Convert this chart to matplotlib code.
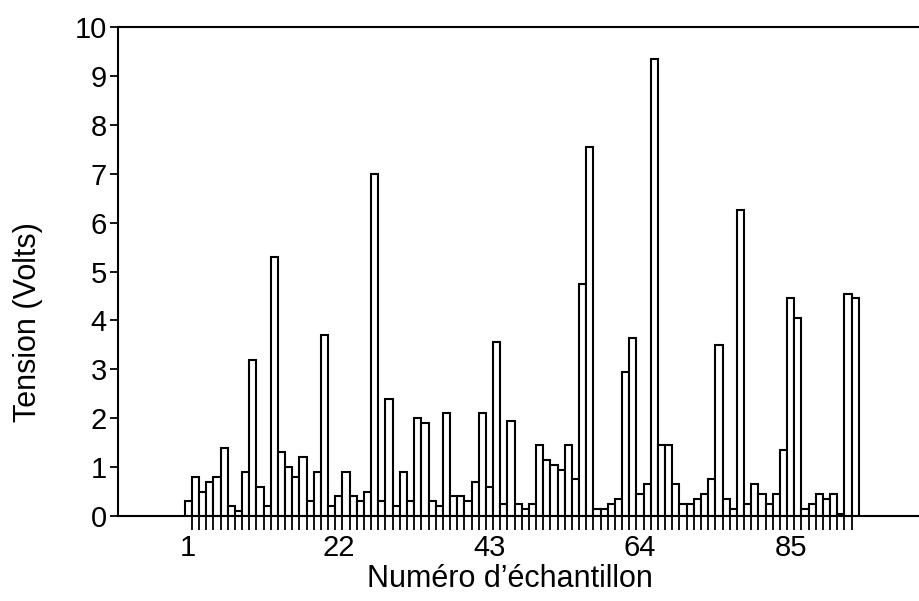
import numpy as np
import matplotlib
matplotlib.use("Agg")
import matplotlib.pyplot as plt

plt.rcParams['font.family'] = ['Liberation Sans', 'DejaVu Sans']

# Tension mesurée pour chaque échantillon (V)
echantillons = np.arange(1, 95)
tension = [
    0.3, 0.8, 0.5, 0.7, 0.8, 1.4, 0.2, 0.1, 0.9, 3.2,
    0.6, 0.2, 5.3, 1.3, 1.0, 0.8, 1.2, 0.3, 0.9, 3.7,
    0.2, 0.4, 0.9, 0.4, 0.3, 0.5, 7.0, 0.3, 2.4, 0.2,
    0.9, 0.3, 2.0, 1.9, 0.3, 0.2, 2.1, 0.4, 0.4, 0.3,
    0.7, 2.1, 0.6, 3.55, 0.25, 1.95, 0.25, 0.15, 0.25, 1.45,
    1.15, 1.05, 0.95, 1.45, 0.75, 4.75, 7.55, 0.15, 0.15, 0.25,
    0.35, 2.95, 3.65, 0.45, 0.65, 9.35, 1.45, 1.45, 0.65, 0.25,
    0.25, 0.35, 0.45, 0.75, 3.5, 0.35, 0.15, 6.25, 0.25, 0.65,
    0.45, 0.25, 0.45, 1.35, 4.45, 4.05, 0.15, 0.25, 0.45, 0.35,
    0.45, 0.05, 4.55, 4.45,
]
ticks_x = [1, 22, 43, 64, 85]
ticks_y = list(range(0, 11))

fig = plt.figure(figsize=(9.19, 6.01), dpi=100)
ax = fig.add_axes([0.1284, 0.1414, 0.8716, 0.8136])

ax.bar(echantillons, tension, width=1.0, color="white",
       edgecolor="black", linewidth=1.5)

ax.set_xlim(-8.8, 102.9)
ax.set_ylim(0, 10)

ax.set_xticks(ticks_x)
ax.set_xticklabels([str(t) for t in ticks_x])
ax.set_xticks(echantillons[:-1] + 0.5, minor=True)
ax.tick_params(axis="x", which="major", length=0, pad=13, labelsize=21)
ax.tick_params(axis="x", which="minor", length=10, width=1.3, direction="out")

ax.set_yticks(ticks_y)
ax.tick_params(axis="y", length=6, width=1.3, pad=2, labelsize=21)

ax.spines["right"].set_visible(False)
for s in ["left", "bottom", "top"]:
    ax.spines[s].set_linewidth(1.5)

ax.set_xlabel("Numéro d’échantillon", fontsize=22)
ax.set_ylabel("Tension (Volts)", fontsize=22)
ax.xaxis.set_label_coords(0.489, -0.098)
ax.yaxis.set_label_coords(-0.094, 0.397)

fig.savefig("out.png", dpi=100)
